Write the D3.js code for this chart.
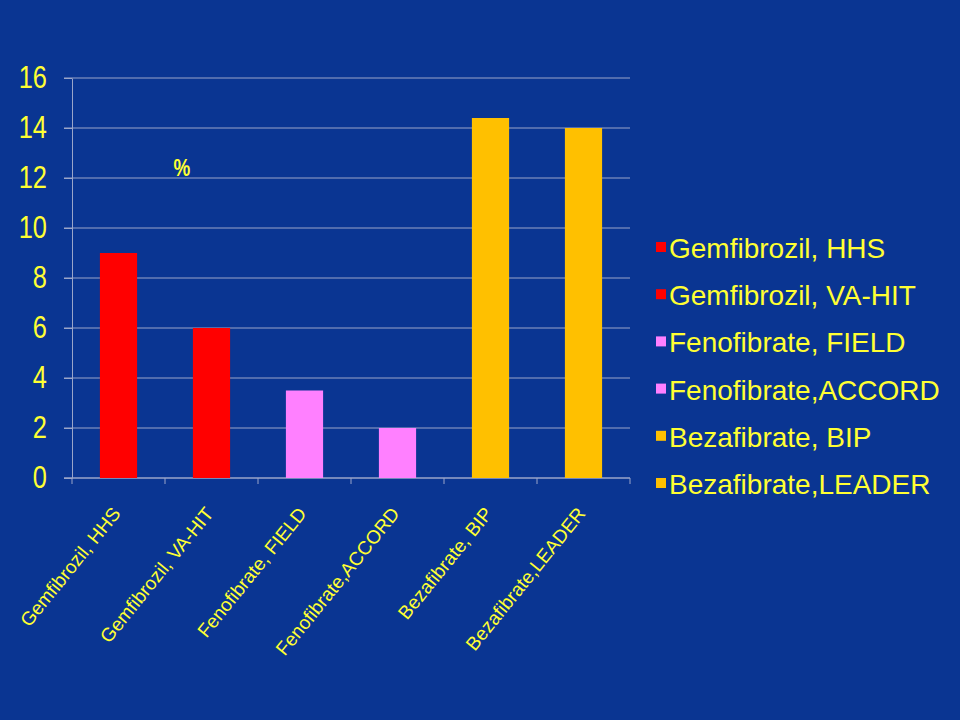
<!DOCTYPE html>
<html>
<head>
<meta charset="utf-8">
<script src="https://cdn.jsdelivr.net/npm/d3@7"></script>
<style>
  body { margin: 0; background: #0a3592; }
  svg { display: block; }
</style>
</head>
<body>
<svg id="chart"></svg>
<script>
// data
const categories = ["Gemfibrozil, HHS", "Gemfibrozil, VA-HIT", "Fenofibrate, FIELD",
  "Fenofibrate,ACCORD", "Bezafibrate, BIP", "Bezafibrate,LEADER"];
const values = [9, 6, 3.5, 2, 14.4, 14];
const barColors = ["#ff0000", "#ff0000", "#ff80ff", "#ff80ff", "#ffc000", "#ffc000"];
const yTicks = [0, 2, 4, 6, 8, 10, 12, 14, 16];
const unitLabel = "%";

var width = 960;
var height = 720;
var textColor = "#ffff33";
var gridColor = "#9aa5c9";
var fontFamily = "'Liberation Sans', Arial, sans-serif";
var squish = 0.82; // the original chart digits look horizontally compressed

var svg = d3.select('#chart')
  .attr('width', width)
  .attr('height', height);

svg.append('rect')
  .attr('width', width)
  .attr('height', height)
  .attr('fill', '#0a3592');

// scales
var x = d3.scaleBand()
  .domain(categories)
  .range([72, 630])
  .padding(0);

var y = d3.scaleLinear()
  .domain([0, 16])
  .range([478, 78]);

// gridlines
svg.append('g')
  .selectAll('line')
  .data(yTicks)
  .join('line')
  .attr('x1', 64)
  .attr('x2', 630)
  .attr('y1', d => y(d))
  .attr('y2', d => y(d))
  .attr('stroke', gridColor)
  .attr('stroke-width', 1);

// y axis
var yAxis = svg.append('g')
  .attr('transform', 'translate(72,0)')
  .call(d3.axisLeft(y).tickValues(yTicks).tickSize(8).tickSizeOuter(0));

yAxis.select('.domain').attr('stroke', gridColor);
yAxis.selectAll('.tick line').attr('stroke', gridColor);
yAxis.selectAll('.tick text')
  .attr('x', 0)
  .attr('transform', 'translate(-25,0) scale(' + squish + ',1)')
  .attr('fill', textColor)
  .attr('font-family', fontFamily)
  .attr('font-size', 31)
  .attr('text-anchor', 'end');

// x axis line and ticks at band boundaries
svg.append('line')
  .attr('x1', 64)
  .attr('x2', 630)
  .attr('y1', y(0))
  .attr('y2', y(0))
  .attr('stroke', gridColor);

var bounds = categories.map(d => x(d)).concat([x.range()[1]]);
svg.append('g')
  .selectAll('line')
  .data(bounds)
  .join('line')
  .attr('x1', d => d)
  .attr('x2', d => d)
  .attr('y1', y(0))
  .attr('y2', y(0) + 6)
  .attr('stroke', gridColor);

// bars
var step = x.bandwidth();
svg.append('g')
  .selectAll('rect')
  .data(values)
  .join('rect')
  .attr('x', (d, i) => x(categories[i]) + step * 0.3)
  .attr('width', step * 0.4)
  .attr('y', d => y(d))
  .attr('height', d => y(0) - y(d))
  .attr('fill', (d, i) => barColors[i]);

// rotated category labels
svg.append('g')
  .selectAll('text')
  .data(categories)
  .join('text')
  .attr('transform', d => 'translate(' + (x(d) + step / 2 + 3) + ',514) rotate(-51)')
  .attr('text-anchor', 'end')
  .attr('font-family', fontFamily)
  .attr('font-size', 19)
  .attr('fill', textColor)
  .text(d => d);

// unit label
svg.append('text')
  .attr('transform', 'translate(182,176) scale(' + squish + ',1)')
  .attr('text-anchor', 'middle')
  .attr('font-family', fontFamily)
  .attr('font-size', 23)
  .attr('font-weight', 'bold')
  .attr('fill', textColor)
  .text(unitLabel);

// legend
var legend = svg.append('g')
  .selectAll('g')
  .data(categories)
  .join('g')
  .attr('transform', (d, i) => 'translate(0,' + (258 + i * 47.2) + ')');

legend.append('rect')
  .attr('x', 656)
  .attr('y', -16)
  .attr('width', 10)
  .attr('height', 10)
  .attr('fill', (d, i) => barColors[i]);

legend.append('text')
  .attr('x', 669)
  .attr('y', 0)
  .attr('font-family', fontFamily)
  .attr('font-size', 28)
  .attr('fill', textColor)
  .text(d => d);
</script>
</body>
</html>
